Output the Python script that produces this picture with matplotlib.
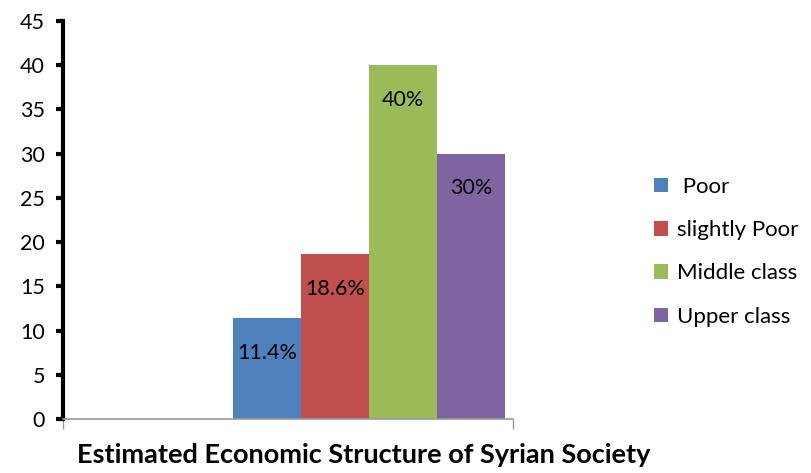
import matplotlib.pyplot as plt

plt.rcParams['font.family'] = ['Lato', 'DejaVu Sans']

labels = [' Poor', 'slightly Poor', 'Middle class', 'Upper class']
values = [11.4, 18.6, 40, 30]
value_text = ['11.4%', '18.6%', '40%', '30%']
positions = [3, 4, 5, 6]
colors = ['#4F81BD', '#C0504D', '#9BBB59', '#8064A2']
yticks = [0, 5, 10, 15, 20, 25, 30, 35, 40, 45]

fig = plt.figure(figsize=(8.11, 4.73), dpi=100)
ax = fig.add_axes([0.0777, 0.1142, 0.555, 0.8414])

bars = []
for p, v, c, lab in zip(positions, values, colors, labels):
    b = ax.bar(p, v, width=1.0, color=c, label=lab)
    bars.append(b)

for p, v, t in zip(positions, values, value_text):
    ax.annotate(t, (p, v), xytext=(0, -25), textcoords='offset points',
                ha='center', va='center', fontsize=15.5, color='black')

ax.set_xlim(0, 6.62)
ax.set_ylim(0, 45)
ax.set_yticks(yticks)
ax.tick_params(axis='y', direction='out', length=5, width=3, color='black',
               labelsize=15.5, pad=8)
ax.set_xticks([0, 6.62])
ax.set_xticklabels(['', ''])
ax.tick_params(axis='x', direction='out', length=7, width=1, color='#999999')

ax.spines['top'].set_visible(False)
ax.spines['right'].set_visible(False)
ax.spines['left'].set_linewidth(3)
ax.spines['left'].set_color('black')
ax.spines['bottom'].set_linewidth(1.2)
ax.spines['bottom'].set_color('#999999')

fig.text(0.449, 0.022, 'Estimated Economic Structure of Syrian Society',
         ha='center', va='baseline', fontsize=19.5, fontweight='bold')

fig.legend(handles=[b for b in bars], labels=labels, loc='upper left',
           bbox_to_anchor=(0.795, 0.645), frameon=False, fontsize=16,
           handlelength=0.65, handleheight=0.65, handletextpad=0.4,
           labelspacing=1.05, borderaxespad=0)

fig.savefig('out.png', dpi=100)
